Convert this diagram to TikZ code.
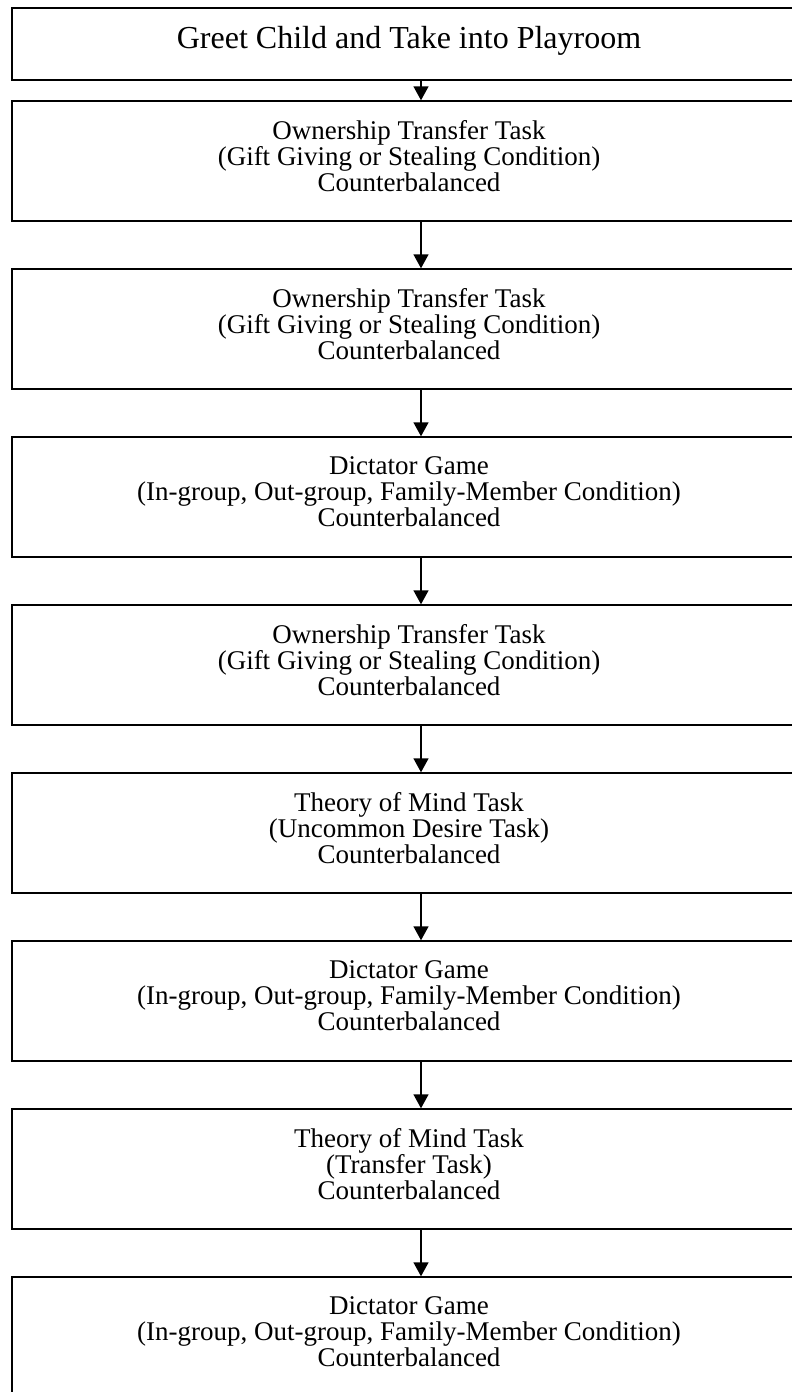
\documentclass[tikz,border=0pt]{standalone}
\usepackage{fontspec}
\setmainfont{Liberation Serif}
\usetikzlibrary{arrows.meta}
\begin{document}
\begin{tikzpicture}[x=0.5pt,y=-0.5pt,
  box/.style={draw=black, line width=0.7pt, minimum width=397pt, inner sep=0pt},
  tall/.style={box, minimum height=60pt},
  txt/.style={inner sep=0pt, align=center, font=\fontsize{13.5}{13}\selectfont},
  arr/.style={line width=0.7pt, -{Triangle[length=7pt,width=7.5pt]}}]
\useasboundingbox (0,0) rectangle (792,1392);
\clip (0,0) rectangle (792,1392);
\coordinate (ax) at (421,0);
\node[box, minimum height=36pt] (b1) at (409,44) {};
\node[txt, font=\fontsize{16}{19}\selectfont] (t1) at ([yshift=1.5pt]b1.center) {Greet Child and Take into Playroom};
\node[tall] (b2) at (409,161) {};
\node[tall] (b3) at (409,329) {};
\node[tall] (b4) at (409,497) {};
\node[tall] (b5) at (409,665) {};
\node[tall] (b6) at (409,833) {};
\node[tall] (b7) at (409,1001) {};
\node[tall] (b8) at (409,1169) {};
\node[tall] (b9) at (409,1337) {};
\node[txt] (t2) at ([yshift=2.5pt]b2.center) {Ownership Transfer Task\\(Gift Giving or Stealing Condition)\\Counterbalanced};
\node[txt] (t3) at ([yshift=2.5pt]b3.center) {Ownership Transfer Task\\(Gift Giving or Stealing Condition)\\Counterbalanced};
\node[txt] (t4) at ([yshift=2.5pt]b4.center) {Dictator Game\\(In-group, Out-group, Family-Member Condition)\\Counterbalanced};
\node[txt] (t5) at ([yshift=2.5pt]b5.center) {Ownership Transfer Task\\(Gift Giving or Stealing Condition)\\Counterbalanced};
\node[txt] (t6) at ([yshift=2.5pt]b6.center) {Theory of Mind Task\\(Uncommon Desire Task)\\Counterbalanced};
\node[txt] (t7) at ([yshift=2.5pt]b7.center) {Dictator Game\\(In-group, Out-group, Family-Member Condition)\\Counterbalanced};
\node[txt] (t8) at ([yshift=2.5pt]b8.center) {Theory of Mind Task\\(Transfer Task)\\Counterbalanced};
\node[txt] (t9) at ([yshift=2.5pt]b9.center) {Dictator Game\\(In-group, Out-group, Family-Member Condition)\\Counterbalanced};
\foreach \a/\b in {b1/b2,b2/b3,b3/b4,b4/b5,b5/b6,b6/b7,b7/b8,b8/b9}
  \draw[arr] (\a.south -| ax) -- (\b.north -| ax);
\end{tikzpicture}
\end{document}
